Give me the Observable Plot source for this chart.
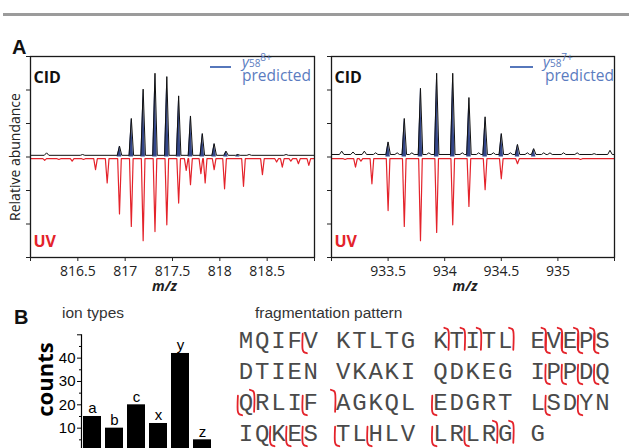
<!DOCTYPE html>
<html><head><meta charset="utf-8">
<script src="https://cdn.jsdelivr.net/npm/d3@7"></script>
<script src="https://cdn.jsdelivr.net/npm/@observablehq/plot@0.6"></script>
<style>
html,body{margin:0;padding:0;width:629px;height:448px;overflow:hidden;background:#fff;}
body{position:relative;font-family:"Open Sans",sans-serif;}
.abs{position:absolute;}
.panel{font-weight:bold;font-family:"Liberation Sans",Arial,sans-serif;font-size:20px;line-height:20px;color:#111;}
.sub{font-family:"Liberation Sans",Arial,sans-serif;font-size:15.5px;line-height:15.5px;color:#333;white-space:nowrap;}
.legln{height:1.6px;background:#5677bb;}
.legy{font-family:"Open Sans",sans-serif;font-size:15px;line-height:11px;color:#5b7cc0;white-space:nowrap;}
.legy i{font-style:italic;}
.legy .sb{font-size:10px;position:relative;top:0px;}
.legy .sp{font-size:10px;position:relative;top:-6px;}
.legp{font-family:"Open Sans",sans-serif;font-size:15.5px;line-height:12px;color:#5b7cc0;white-space:nowrap;}
svg{overflow:visible;}
</style></head>
<body>
<div class="abs" style="left:3px;top:13px;width:626px;height:3px;background:#9b9b9b"></div>
<div id="specL" class="abs" style="left:0;top:0"></div>
<div id="specR" class="abs" style="left:300px;top:0"></div>
<div id="bars" class="abs" style="left:0;top:300px"></div>
<div id="seq" class="abs" style="left:220px;top:300px"></div>
<div class="abs panel" style="left:12px;top:37px">A</div>
<div class="abs panel" style="left:14px;top:307px">B</div>
<div class="abs sub" style="left:62px;top:305px">ion types</div>
<div class="abs sub" style="left:255px;top:305px">fragmentation pattern</div>
<div class="abs legln" style="left:210px;top:66px;width:21px"></div>
<div class="abs legy" style="left:242px;top:56px"><i>y</i><span class="sb">58</span><span class="sp">8+</span></div>
<div class="abs legp" style="left:242px;top:69px">predicted</div>
<div class="abs legln" style="left:510px;top:66px;width:23px"></div>
<div class="abs legy" style="left:543px;top:56px"><i>y</i><span class="sb">58</span><span class="sp">7+</span></div>
<div class="abs legp" style="left:545px;top:69px">predicted</div>
<script>
// ---------- Panel A data (m/z, relative intensity) ----------
const yTicks = [-120, -80, -40, 0, 40, 80, 120];

const leftDomain = [816, 819];
const leftTicks = [816, 816.5, 817, 817.5, 818, 818.5, 819];
const leftLabels = [816.5, 817, 817.5, 818, 818.5];
const cidLeftMz = [816.94, 817.065, 817.19, 817.315, 817.44, 817.565, 817.69, 817.815, 817.94, 818.065, 818.19];
const cidLeftInt = [13, 46, 81, 100, 96, 73, 49, 28, 16, 7, 3];
const predLeftInt = [13, 46, 81, 100, 96, 73, 49, 28, 16, 7, 3];
const cidLeftNoiseMz = [816.17, 816.55, 818.31, 818.7];
const cidLeftNoiseInt = [5, 3, 3, 3];
const uvLeftMz = [816.15, 816.30, 816.44, 816.56, 816.687, 816.81, 816.94, 817.065, 817.19, 817.315, 817.44, 817.565, 817.645, 817.69, 817.80, 817.845, 817.94, 818.05, 818.25, 818.45, 818.60, 818.66, 818.75, 818.83, 818.94];
const uvLeftInt = [4, 3, 5, 3, 15, 31, 68, 83, 100, 89, 81, 55, 16, 33, 20, 31, 15, 38, 35, 21, 6, 12, 5, 8, 10];

const rightDomain = [933, 935.5];
const rightTicks = [933, 933.5, 934, 934.5, 935, 935.5];
const rightLabels = [933.5, 934, 934.5, 935];
const cidRightMz = [933.5, 933.643, 933.786, 933.929, 934.071, 934.214, 934.357, 934.5, 934.643, 934.786];
const cidRightInt = [18, 46, 82, 100, 100, 71, 48, 28, 15, 10];
const predRightInt = [18, 46, 82, 100, 100, 71, 48, 28, 15, 10];
const cidRightNoiseMz = [933.09, 933.19, 933.29, 933.39, 933.58, 933.71, 933.86, 934.155, 934.3, 934.43, 934.58, 934.73, 934.875, 934.93, 935.05, 935.17, 935.32, 935.46];
const cidRightNoiseInt = [7, 6, 7, 5, 5, 5, 5, 5, 5, 5, 5, 5, 5, 5, 5, 5, 4, 8];
const uvRightMz = [933.12, 933.212, 933.26, 933.357, 933.5, 933.643, 933.786, 933.929, 934.071, 934.214, 934.357, 934.5, 934.643, 935.2];
const uvRightInt = [3, 12, 5, 32, 64, 83, 100, 90, 81, 59, 39, 26, 8, 3];

// ---------- Panel B data ----------
const ionTypes = ["a", "b", "c", "x", "y", "z"];
const ionCounts = [15, 10, 20, 12, 42, 5];

const seqRows = ["MQIFV KTLTG KTITL EVEPS", "DTIEN VKAKI QDKEG IPPDQ", "QRLIF AGKQL EDGRT LSDYN", "IQKES TLHLV LRLRG G"];
// N-terminal cleavage marks (hook at bottom) : row, boundary column
const nSiteRow = [0, 0, 0, 0, 0, 1, 1, 1, 1, 2, 2, 2, 2, 2, 3, 3, 3, 3, 3, 3, 3];
const nSiteAt = [3.5, 18.5, 19.5, 20.5, 21.5, 18.5, 19.5, 20.5, 21.5, -0.5, 3.5, 11.5, 18.5, 20.5, 1.5, 2.5, 3.5, 5.5, 7.5, 11.5, 13.5];
// C-terminal cleavage marks (hook at top)
const cSiteRow = [0, 0, 0, 0, 0, 0, 0, 0, 2, 2, 3, 3];
const cSiteAt = [12.5, 13.5, 14.5, 16.5, 18.5, 19.5, 20.5, 21.5, 0.5, 5.5, 15.5, 16.5];

// ---------- helpers ----------
function spectrumPath(mz, inten, sign, base, w, lo, hi) {
  const order = d3.range(mz.length).sort((a, b) => mz[a] - mz[b]);
  const pts = [{x: lo, y: base}];
  for (const i of order) pts.push({x: mz[i] - w, y: base}, {x: mz[i], y: sign * inten[i]}, {x: mz[i] + w, y: base});
  pts.push({x: hi, y: base});
  return pts;
}
function peakShapes(mz, inten, w) {
  return mz.flatMap((m, i) => [{x: m - w, y: 0, k: i}, {x: m, y: inten[i], k: i}, {x: m + w, y: 0, k: i}]);
}

const RED = "#e4232b";
function spectrum(cfg) {
  const cid = spectrumPath(cfg.cidMz.concat(cfg.noiseMz), cfg.cidInt.concat(cfg.noiseInt), 1, cfg.cidBase, cfg.w, cfg.domain[0], cfg.domain[1]);
  const uv = spectrumPath(cfg.uvMz, cfg.uvInt, -1, -2, cfg.w * 0.8, cfg.domain[0], cfg.domain[1]);
  const pred = peakShapes(cfg.cidMz, cfg.predInt, cfg.w);
  return Plot.plot({
    width: 320, height: 300,
    marginTop: 56, marginBottom: 43, marginLeft: cfg.ml, marginRight: cfg.mr,
    style: {fontFamily: "Open Sans", fontSize: "14px", color: "#222", background: "transparent", overflow: "visible"},
    x: {domain: cfg.domain},
    y: {domain: [-120, 120]},
    marks: [
      Plot.line(uv, {x: "x", y: "y", stroke: RED, strokeWidth: 1.2}),
      Plot.areaY(pred, {x: "x", y: "y", z: "k", fill: "#34478a"}),
      Plot.line(cid, {x: "x", y: "y", stroke: "#111", strokeWidth: 1}),
      Plot.frame({stroke: "#1a1a1a", strokeWidth: 1.3}),
      Plot.axisX({ticks: cfg.ticks, tickSize: 4, tickPadding: 5, tickFormat: d => cfg.labels.includes(d) ? String(d) : "", label: null, fontSize: 14}),
      Plot.axisY({ticks: yTicks, tickSize: 4, tickFormat: () => "", label: null}),
      Plot.text(["m/z"], {frameAnchor: "bottom", dx: -8, dy: 33, fontStyle: "italic", fontWeight: "bold", fontSize: 14}),
      Plot.text(["CID"], {frameAnchor: "top-left", textAnchor: "start", dx: 3, dy: 15, fontWeight: "bold", fontSize: 16, fill: "#111"}),
      Plot.text(["UV"], {frameAnchor: "bottom-left", textAnchor: "start", dx: 3, dy: -11, fontWeight: "bold", fontSize: 16, fill: RED}),
      cfg.ylabel ? Plot.text([cfg.ylabel], {frameAnchor: "left", textAnchor: "middle", dx: -15, rotate: -90, fontSize: 14}) : null
    ]
  });
}

document.getElementById("specL").append(spectrum({
  domain: leftDomain, ticks: leftTicks, labels: leftLabels, ml: 30, mr: 6, w: 0.024,
  cidMz: cidLeftMz, cidInt: cidLeftInt, predInt: predLeftInt, noiseMz: cidLeftNoiseMz, noiseInt: cidLeftNoiseInt, cidBase: 2,
  uvMz: uvLeftMz, uvInt: uvLeftInt, ylabel: "Relative abundance"
}));
document.getElementById("specR").append(spectrum({
  domain: rightDomain, ticks: rightTicks, labels: rightLabels, ml: 31, mr: 6, w: 0.02,
  cidMz: cidRightMz, cidInt: cidRightInt, predInt: predRightInt, noiseMz: cidRightNoiseMz, noiseInt: cidRightNoiseInt, cidBase: 3,
  uvMz: uvRightMz, uvInt: uvRightInt, ylabel: null
}));

// ---------- ion types bar chart ----------
document.getElementById("bars").append(Plot.plot({
  width: 230, height: 170,
  marginLeft: 81, marginRight: 17, marginTop: 34.3, marginBottom: 19,
  style: {fontFamily: "Liberation Sans", fontSize: "15px", color: "#000", background: "transparent", overflow: "visible"},
  x: {domain: ionTypes, paddingInner: 0.16, paddingOuter: 0.08, axis: null},
  y: {domain: [0, 50]},
  marks: [
    Plot.barY(ionCounts, {x: ionTypes, y: ionCounts, fill: "#000"}),
    Plot.text(ionCounts, {x: ionTypes, y: ionCounts, text: ionTypes, dy: -8, fontSize: 15}),
    Plot.frame({anchor: "left", stroke: "#000", strokeWidth: 1.2}),
    Plot.axisY({ticks: [10, 20, 30, 40, 50], tickSize: 4, tickPadding: 2, tickFormat: d => d === 50 ? "" : String(d), label: null, fontSize: 15}),
    Plot.axisY({ticks: [5, 15, 25, 35, 45], tickSize: 2, tickFormat: () => "", label: null}),
    Plot.text(["counts"], {frameAnchor: "left", textAnchor: "middle", dx: -35.5, dy: -13.6, rotate: -90, fontFamily: "Open Sans", fontWeight: "bold", fontSize: 22})
  ]
}));

// ---------- fragmentation pattern ----------
const chars = seqRows.flatMap((s, r) => [...s].map((ch, c) => ({r, c, ch}))).filter(d => d.ch !== " ");
const nHook = [[0, -0.22], [0, 0.3], [0.07, 0.37], [0.26, 0.41]];
const cHook = [[-0.26, -0.41], [-0.07, -0.37], [0, -0.3], [0, 0.3]];
const marks = [];
nSiteAt.forEach((b, i) => nHook.forEach(([dx, dy]) => marks.push({id: "n" + i, x: b + dx, y: nSiteRow[i] + dy})));
cSiteAt.forEach((b, i) => cHook.forEach(([dx, dy]) => marks.push({id: "c" + i, x: b + dx, y: cSiteRow[i] + dy})));

document.getElementById("seq").append(Plot.plot({
  width: 409, height: 148,
  style: {background: "transparent", overflow: "visible"},
  x: {domain: [0, 22], range: [25.5, 381.9], axis: null},
  y: {domain: [0, 3], range: [40, 133], axis: null},
  marks: [
    Plot.text(chars, {x: "c", y: "r", text: "ch", fontFamily: "Liberation Mono", fontSize: 24, fill: "#4a4a4a"}),
    Plot.line(marks, {x: "x", y: "y", z: "id", stroke: RED, strokeWidth: 1.8, curve: "catmull-rom"})
  ]
}));
</script>
</body></html>
